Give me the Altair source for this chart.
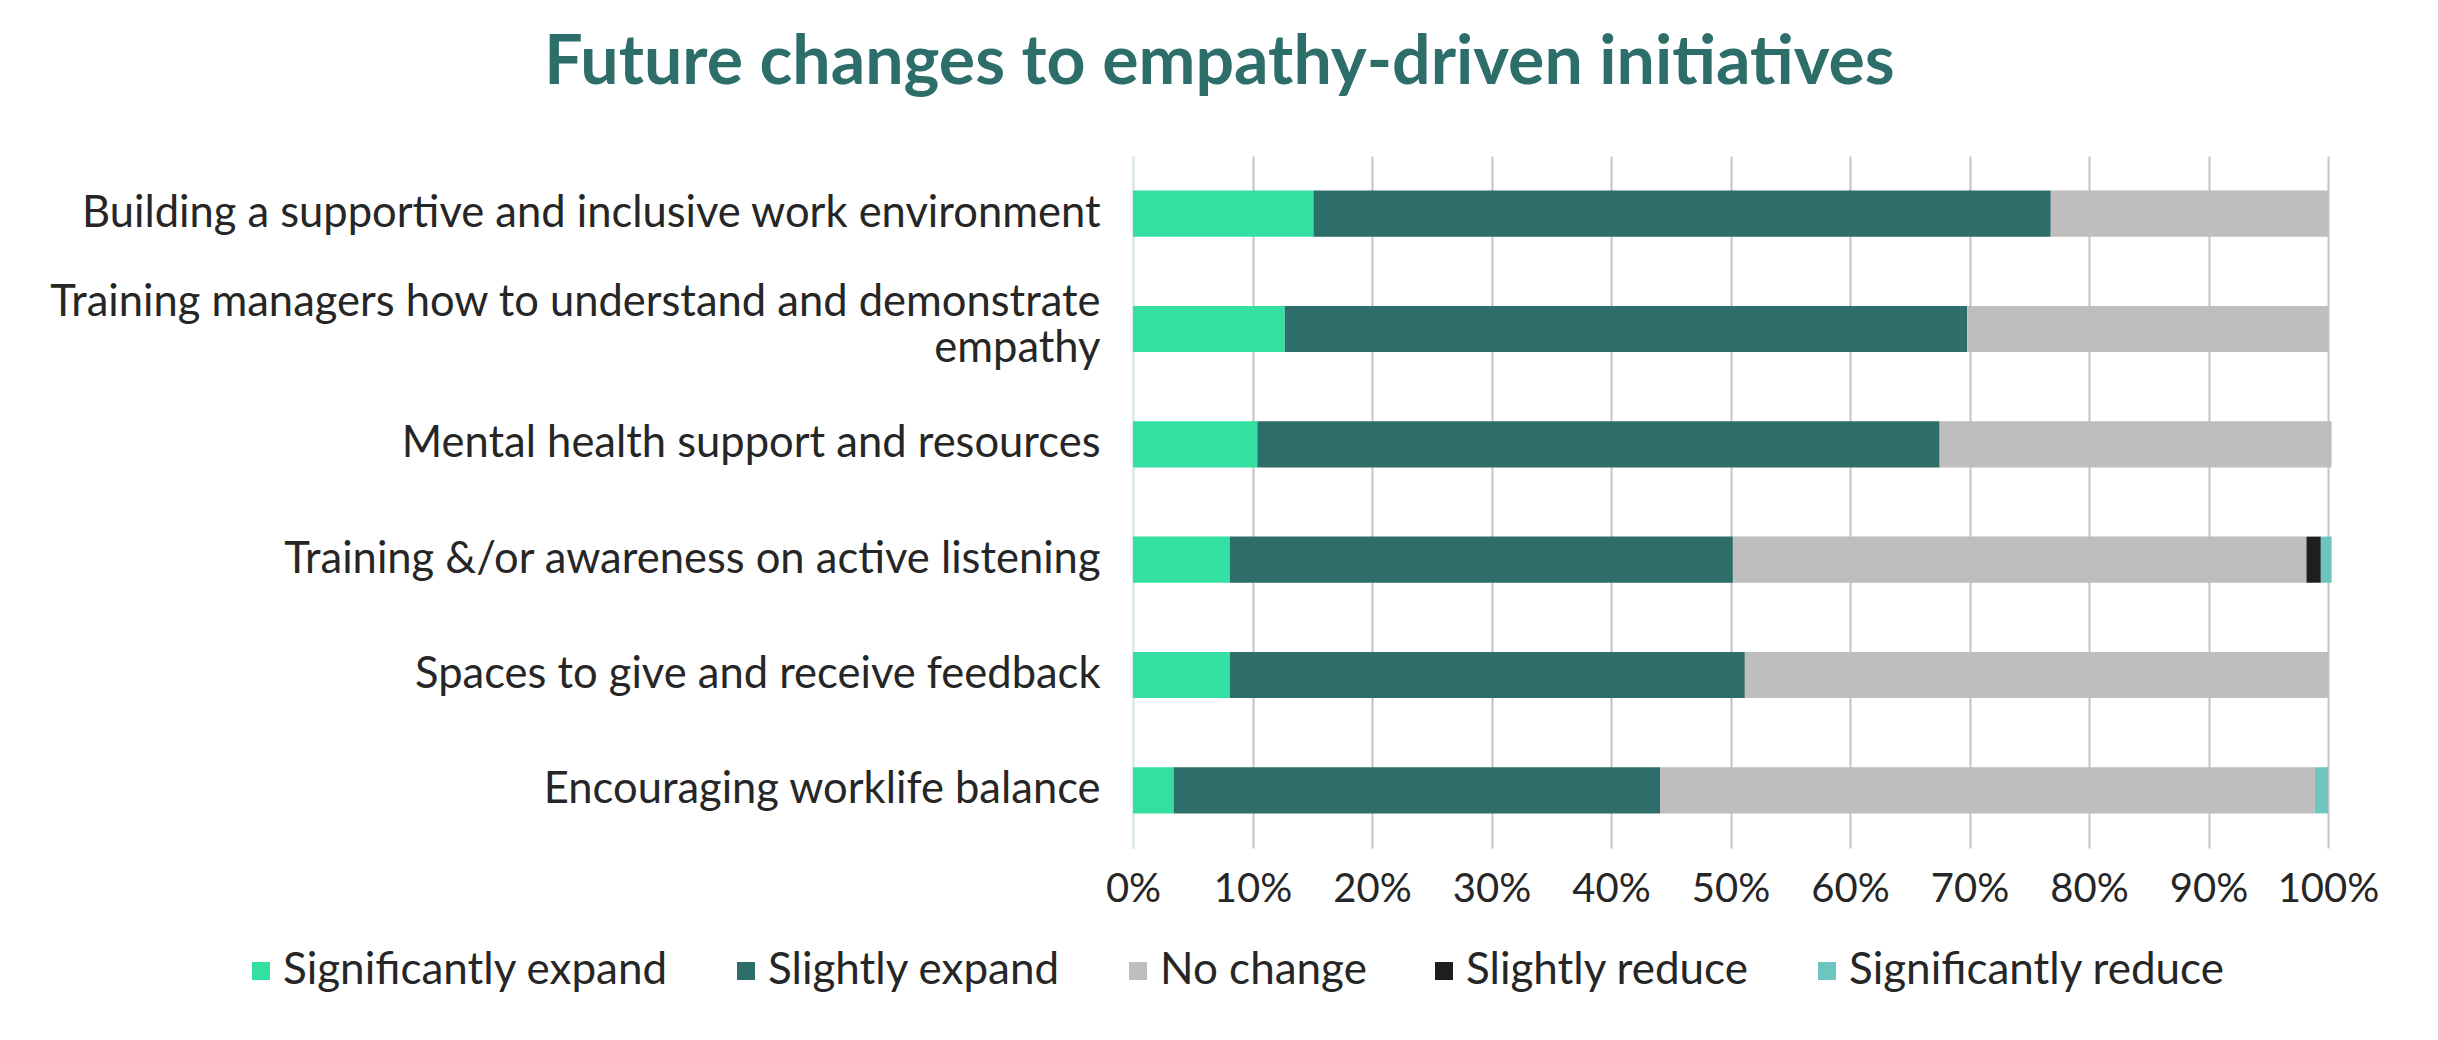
import altair as alt
import pandas as pd

# Initiatives, top to bottom
initiatives = [
    "Building a supportive and inclusive work environment",
    "Training managers how to understand and demonstrate empathy",
    "Mental health support and resources",
    "Training &/or awareness on active listening",
    "Spaces to give and receive feedback",
    "Encouraging worklife balance",
]

responses = [
    "Significantly expand",
    "Slightly expand",
    "No change",
    "Slightly reduce",
    "Significantly reduce",
]

colors = ["#34E0A1", "#2E6E6A", "#BEBEBE", "#1E1E1E", "#6CC5BE"]

# Share of respondents (%) per response, one list per response
significantly_expand = [15.1, 12.7, 10.4, 8.1, 8.1, 3.4]
slightly_expand = [61.7, 57.1, 57.1, 42.1, 43.1, 40.7]
no_change = [23.2, 30.2, 32.8, 48.0, 48.8, 54.8]
slightly_reduce = [0.0, 0.0, 0.0, 1.2, 0.0, 0.0]
significantly_reduce = [0.0, 0.0, 0.0, 0.9, 0.0, 1.1]

series = [significantly_expand, slightly_expand, no_change,
          slightly_reduce, significantly_reduce]

rows = []
for k, (resp, vals) in enumerate(zip(responses, series)):
    for name, v in zip(initiatives, vals):
        rows.append({"initiative": name, "response": resp,
                     "order": k, "share": v / 100.0})
df = pd.DataFrame(rows)

WRAPPED = "Training managers how to understand and demonstrate empathy"
label_expr = (
    f"datum.label == '{WRAPPED}'"
    " ? ['Training managers how to understand and demonstrate', 'empathy']"
    " : datum.label"
)
# lift the two-line label so the block is centred on its bar
label_offset = {
    "condition": {"test": f"datum.value == '{WRAPPED}'", "value": -26},
    "value": 0,
}

FONT = "Lato"
TEXT = "#262626"

chart = (
    alt.Chart(df)
    .mark_bar()
    .encode(
        x=alt.X(
            "share:Q",
            stack="zero",
            scale=alt.Scale(domain=[0, 1], nice=False),
            axis=alt.Axis(
                format=".0%",
                values=[i / 10 for i in range(11)],
                title=None,
                grid=True,
                gridColor="#C4C4C4",
                gridWidth=2,
                domain=False,
                ticks=False,
                labelFont=FONT,
                labelFontSize=40,
                labelColor=TEXT,
                labelPadding=21,
                labelFlush=False,
            ),
        ),
        y=alt.Y(
            "initiative:N",
            sort=initiatives,
            scale=alt.Scale(paddingInner=0.6, paddingOuter=0.3),
            axis=alt.Axis(
                title=None,
                ticks=False,
                domain=True,
                domainColor="#DCEFF0",
                domainWidth=2,
                labelFont=FONT,
                labelFontSize=43.5,
                labelColor=TEXT,
                labelPadding=33,
                labelLimit=1200,
                labelLineHeight=46,
                labelExpr=label_expr,
                labelOffset=label_offset,
            ),
        ),
        color=alt.Color(
            "response:N",
            scale=alt.Scale(domain=responses, range=colors),
            legend=alt.Legend(
                title=None,
                orient="none",
                direction="horizontal",
                columns=5,
                legendX=-899,
                legendY=793,
                symbolType="square",
                symbolSize=324,
                symbolStrokeWidth=0,
                symbolOffset=5,
                labelFont=FONT,
                labelFontSize=44,
                labelColor=TEXT,
                labelOffset=0,
                columnPadding=50,
                labelLimit=600,
            ),
        ),
        order=alt.Order("order:Q"),
    )
    .properties(
        width=1195,
        height=692,
        padding={"left": 1133, "top": 156, "right": 110, "bottom": 192},
        autosize=alt.AutoSizeParams(type="none"),
        title=alt.TitleParams(
            "Future changes to empathy-driven initiatives",
            font=FONT,
            fontSize=68,
            fontWeight="bold",
            color="#2E6E6A",
            anchor="middle",
            dx=-511,
            offset=58,
        ),
    )
    .configure_view(stroke=None)
)

chart.save("out.html", embed_options={"renderer": "svg", "actions": False})
